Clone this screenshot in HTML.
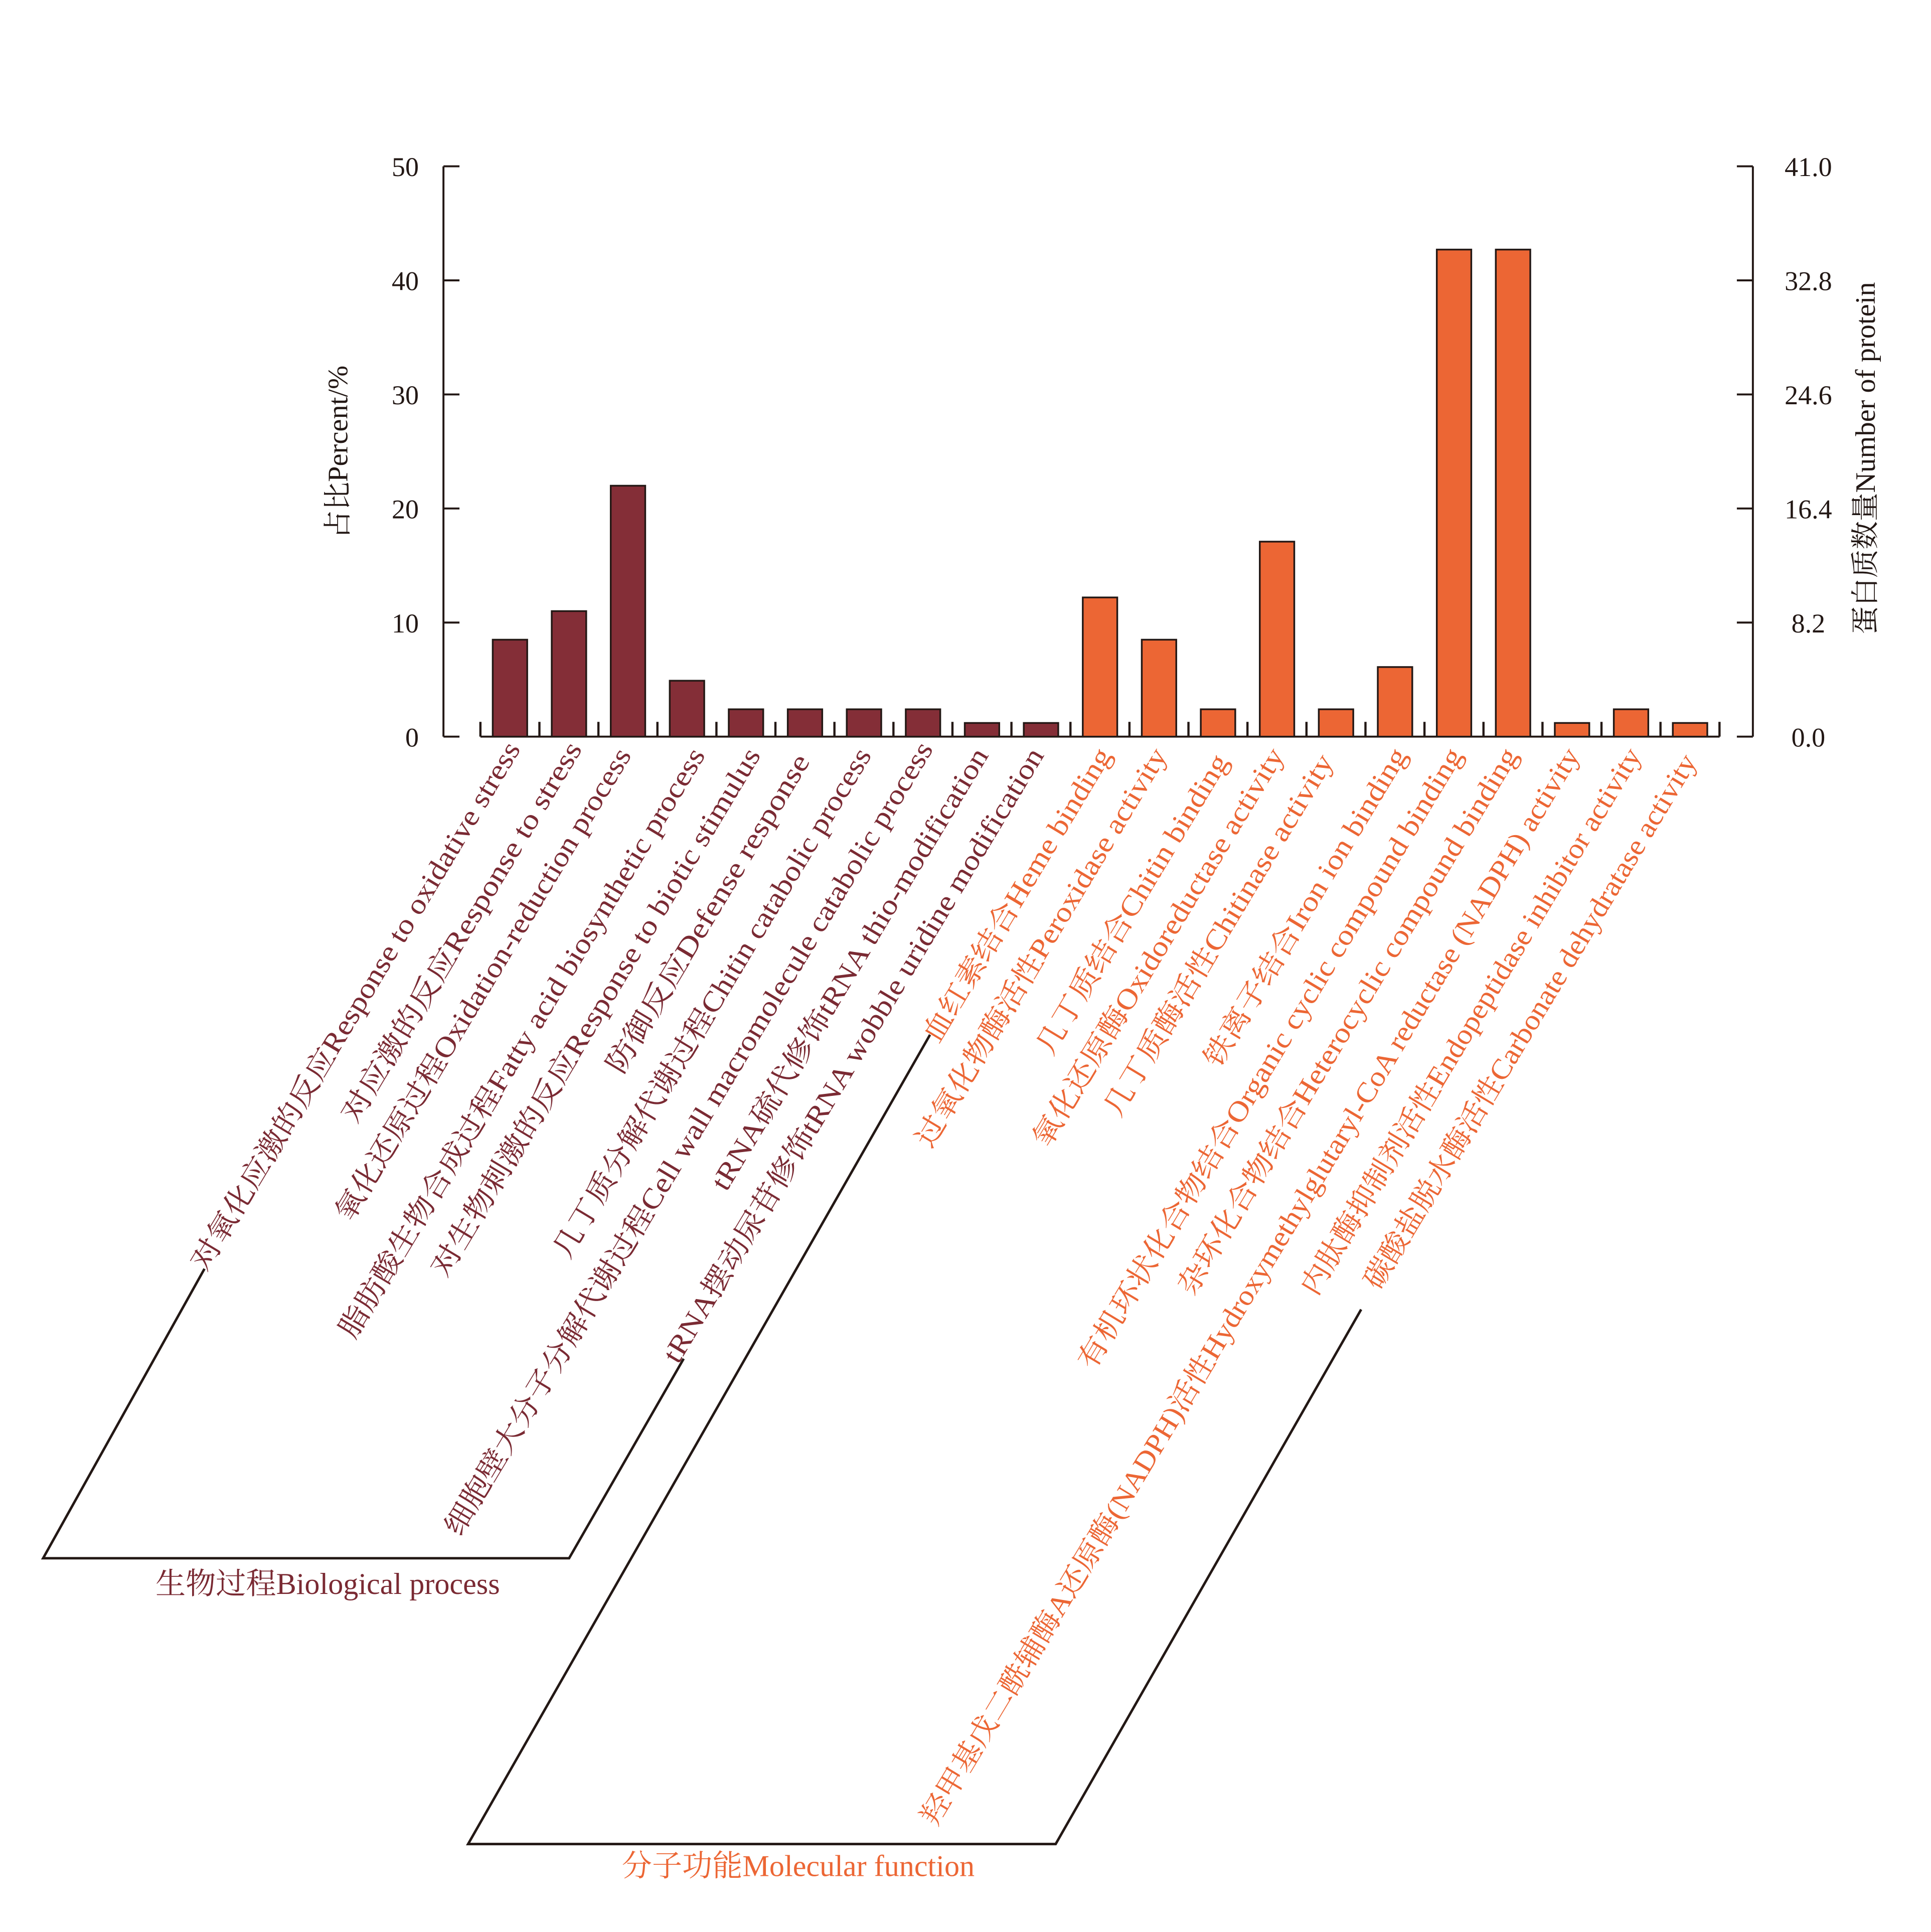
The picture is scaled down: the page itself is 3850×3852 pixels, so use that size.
<!DOCTYPE html>
<html><head><meta charset="utf-8"><style>html,body{margin:0;padding:0;background:#fff}svg{display:block}</style></head>
<body>
<svg width="3850" height="3852" viewBox="0 0 1567.6 1568.4" xmlns="http://www.w3.org/2000/svg" font-family="'Liberation Serif','Noto Serif CJK SC','Noto Sans CJK SC',serif">
<rect width="1567.6" height="1568.4" fill="#fff"/>
<g stroke="#231815" stroke-width="1.6" fill="none">
<line x1="360" y1="135" x2="360" y2="598"/>
<line x1="360" y1="135" x2="373" y2="135"/><line x1="360" y1="227.6" x2="373" y2="227.6"/><line x1="360" y1="320.2" x2="373" y2="320.2"/><line x1="360" y1="412.8" x2="373" y2="412.8"/><line x1="360" y1="505.4" x2="373" y2="505.4"/><line x1="360" y1="598" x2="373" y2="598"/>
<line x1="1423" y1="135" x2="1423" y2="598"/>
<line x1="1410" y1="135" x2="1423" y2="135"/><line x1="1410" y1="227.6" x2="1423" y2="227.6"/><line x1="1410" y1="320.2" x2="1423" y2="320.2"/><line x1="1410" y1="412.8" x2="1423" y2="412.8"/><line x1="1410" y1="505.4" x2="1423" y2="505.4"/><line x1="1410" y1="598" x2="1423" y2="598"/>
<line x1="390" y1="598" x2="1396" y2="598"/>
</g>
<g stroke="#231815" stroke-width="1.8">
<line x1="390" y1="586" x2="390" y2="598"/><line x1="437.9" y1="586" x2="437.9" y2="598"/><line x1="485.8" y1="586" x2="485.8" y2="598"/><line x1="533.7" y1="586" x2="533.7" y2="598"/><line x1="581.6" y1="586" x2="581.6" y2="598"/><line x1="629.5" y1="586" x2="629.5" y2="598"/><line x1="677.4" y1="586" x2="677.4" y2="598"/><line x1="725.3" y1="586" x2="725.3" y2="598"/><line x1="773.2" y1="586" x2="773.2" y2="598"/><line x1="821.1" y1="586" x2="821.1" y2="598"/><line x1="869" y1="586" x2="869" y2="598"/><line x1="916.9" y1="586" x2="916.9" y2="598"/><line x1="964.8" y1="586" x2="964.8" y2="598"/><line x1="1012.7" y1="586" x2="1012.7" y2="598"/><line x1="1060.6" y1="586" x2="1060.6" y2="598"/><line x1="1108.5" y1="586" x2="1108.5" y2="598"/><line x1="1156.4" y1="586" x2="1156.4" y2="598"/><line x1="1204.3" y1="586" x2="1204.3" y2="598"/><line x1="1252.2" y1="586" x2="1252.2" y2="598"/><line x1="1300.1" y1="586" x2="1300.1" y2="598"/><line x1="1348" y1="586" x2="1348" y2="598"/><line x1="1395.9" y1="586" x2="1395.9" y2="598"/>
</g>
<g stroke="#231815" stroke-width="1.4" fill="#842e37">
<rect x="400" y="519.3" width="28" height="78.7"/>
<rect x="447.9" y="496.1" width="28" height="101.9"/>
<rect x="495.8" y="394.3" width="28" height="203.7"/>
<rect x="543.7" y="552.6" width="28" height="45.4"/>
<rect x="591.6" y="575.8" width="28" height="22.2"/>
<rect x="639.5" y="575.8" width="28" height="22.2"/>
<rect x="687.4" y="575.8" width="28" height="22.2"/>
<rect x="735.3" y="575.8" width="28" height="22.2"/>
<rect x="783.2" y="586.9" width="28" height="11.1"/>
<rect x="831.1" y="586.9" width="28" height="11.1"/>
</g>
<g stroke="#231815" stroke-width="1.4" fill="#ec6634">
<rect x="879" y="485" width="28" height="113"/>
<rect x="926.9" y="519.3" width="28" height="78.7"/>
<rect x="974.8" y="575.8" width="28" height="22.2"/>
<rect x="1022.7" y="439.7" width="28" height="158.3"/>
<rect x="1070.6" y="575.8" width="28" height="22.2"/>
<rect x="1118.5" y="541.5" width="28" height="56.5"/>
<rect x="1166.4" y="202.6" width="28" height="395.4"/>
<rect x="1214.3" y="202.6" width="28" height="395.4"/>
<rect x="1262.2" y="586.9" width="28" height="11.1"/>
<rect x="1310.1" y="575.8" width="28" height="22.2"/>
<rect x="1358" y="586.9" width="28" height="11.1"/>
</g>
<g font-size="22" fill="#231815" text-anchor="end">
<text x="340" y="143">50</text><text x="340" y="235.6">40</text><text x="340" y="328.2">30</text><text x="340" y="420.8">20</text><text x="340" y="513.4">10</text><text x="340" y="606">0</text>
</g>
<g font-size="22" fill="#231815" text-anchor="middle">
<text x="1468" y="143">41.0</text><text x="1468" y="235.6">32.8</text><text x="1468" y="328.2">24.6</text><text x="1468" y="420.8">16.4</text><text x="1468" y="513.4">8.2</text><text x="1468" y="606">0.0</text>
</g>
<text transform="translate(282,367) rotate(-90)" font-size="23" text-anchor="middle" fill="#231815">占比Percent/%</text>
<text transform="translate(1522,372) rotate(-90)" font-size="23" text-anchor="middle" fill="#231815">蛋白质数量Number of protein</text>
<g font-size="23" text-anchor="end" fill="#7a2a33">
<text transform="translate(423,608) rotate(-59)" textLength="495.9" lengthAdjust="spacingAndGlyphs">对氧化应激的反应Response to oxidative stress</text>
<text transform="translate(473,608) rotate(-59)" textLength="355.9" lengthAdjust="spacingAndGlyphs">对应激的反应Response to  stress</text>
<text transform="translate(513,613) rotate(-59)" textLength="443.4" lengthAdjust="spacingAndGlyphs">氧化还原过程Oxidation-reduction process</text>
<text transform="translate(573,613) rotate(-59)" textLength="554.3" lengthAdjust="spacingAndGlyphs">脂肪酸生物合成过程Fatty acid biosynthetic process</text>
<text transform="translate(618,613) rotate(-59)" textLength="495.9" lengthAdjust="spacingAndGlyphs">对生物刺激的反应Response to biotic stimulus</text>
<text transform="translate(658,618) rotate(-59)" textLength="297.5" lengthAdjust="spacingAndGlyphs">防御反应Defense response</text>
<text transform="translate(708,613) rotate(-59)" textLength="478.4" lengthAdjust="spacingAndGlyphs">几丁质分解代谢过程Chitin catabolic process</text>
<text transform="translate(758,608) rotate(-59)" textLength="746.8" lengthAdjust="spacingAndGlyphs">细胞壁大分子分解代谢过程Cell wall macromolecule catabolic process</text>
<text transform="translate(803,613) rotate(-59)" textLength="414.2" lengthAdjust="spacingAndGlyphs">tRNA硫代修饰tRNA thio-modification</text>
<text transform="translate(848,613) rotate(-59)" textLength="577.6" lengthAdjust="spacingAndGlyphs">tRNA摆动尿苷修饰tRNA wobble uridine modification</text>
</g>
<g font-size="23" text-anchor="end" fill="#ec6634">
<text transform="translate(903,613) rotate(-59)" textLength="274.2" lengthAdjust="spacingAndGlyphs">血红素结合Heme binding</text>
<text transform="translate(948,613) rotate(-59)" textLength="373.4" lengthAdjust="spacingAndGlyphs">过氧化物酶活性Peroxidase activity</text>
<text transform="translate(998,618) rotate(-59)" textLength="280" lengthAdjust="spacingAndGlyphs">几丁质结合Chitin binding</text>
<text transform="translate(1043,613) rotate(-59)" textLength="373.4" lengthAdjust="spacingAndGlyphs">氧化还原酶Oxidoreductase activity</text>
<text transform="translate(1083,618) rotate(-59)" textLength="338.4" lengthAdjust="spacingAndGlyphs">几丁质酶活性Chitinase activity</text>
<text transform="translate(1143,613) rotate(-59)" textLength="297.5" lengthAdjust="spacingAndGlyphs">铁离子结合Iron ion binding</text>
<text transform="translate(1188,613) rotate(-59)" textLength="583.4" lengthAdjust="spacingAndGlyphs">有机环状化合物结合Organic cyclic compound binding</text>
<text transform="translate(1233,613) rotate(-59)" textLength="513.4" lengthAdjust="spacingAndGlyphs">杂环化合物结合Heterocyclic compound binding</text>
<text transform="translate(1283,613) rotate(-59)" textLength="1015.2" lengthAdjust="spacingAndGlyphs">羟甲基戊二酰辅酶A还原酶(NADPH)活性Hydroxymethylglutaryl-CoA reductase (NADPH) activity</text>
<text transform="translate(1333,613) rotate(-59)" textLength="513.4" lengthAdjust="spacingAndGlyphs">内肽酶抑制剂活性Endopeptidase inhibitor activity</text>
<text transform="translate(1378,618) rotate(-59)" textLength="501.8" lengthAdjust="spacingAndGlyphs">碳酸盐脱水酶活性Carbonate dehydratase activity</text>
</g>
<g stroke="#231815" stroke-width="2" fill="none">
<polyline points="166,1030 35,1265 462,1265 555,1103"/>
<polyline points="755,840 380,1497 857,1497 1105,1063"/>
</g>
<text x="266" y="1294" font-size="24.5" text-anchor="middle" fill="#7a2a33">生物过程Biological process</text>
<text x="648" y="1523" font-size="24.5" text-anchor="middle" fill="#ec6634">分子功能Molecular function</text>
</svg>
</body></html>
